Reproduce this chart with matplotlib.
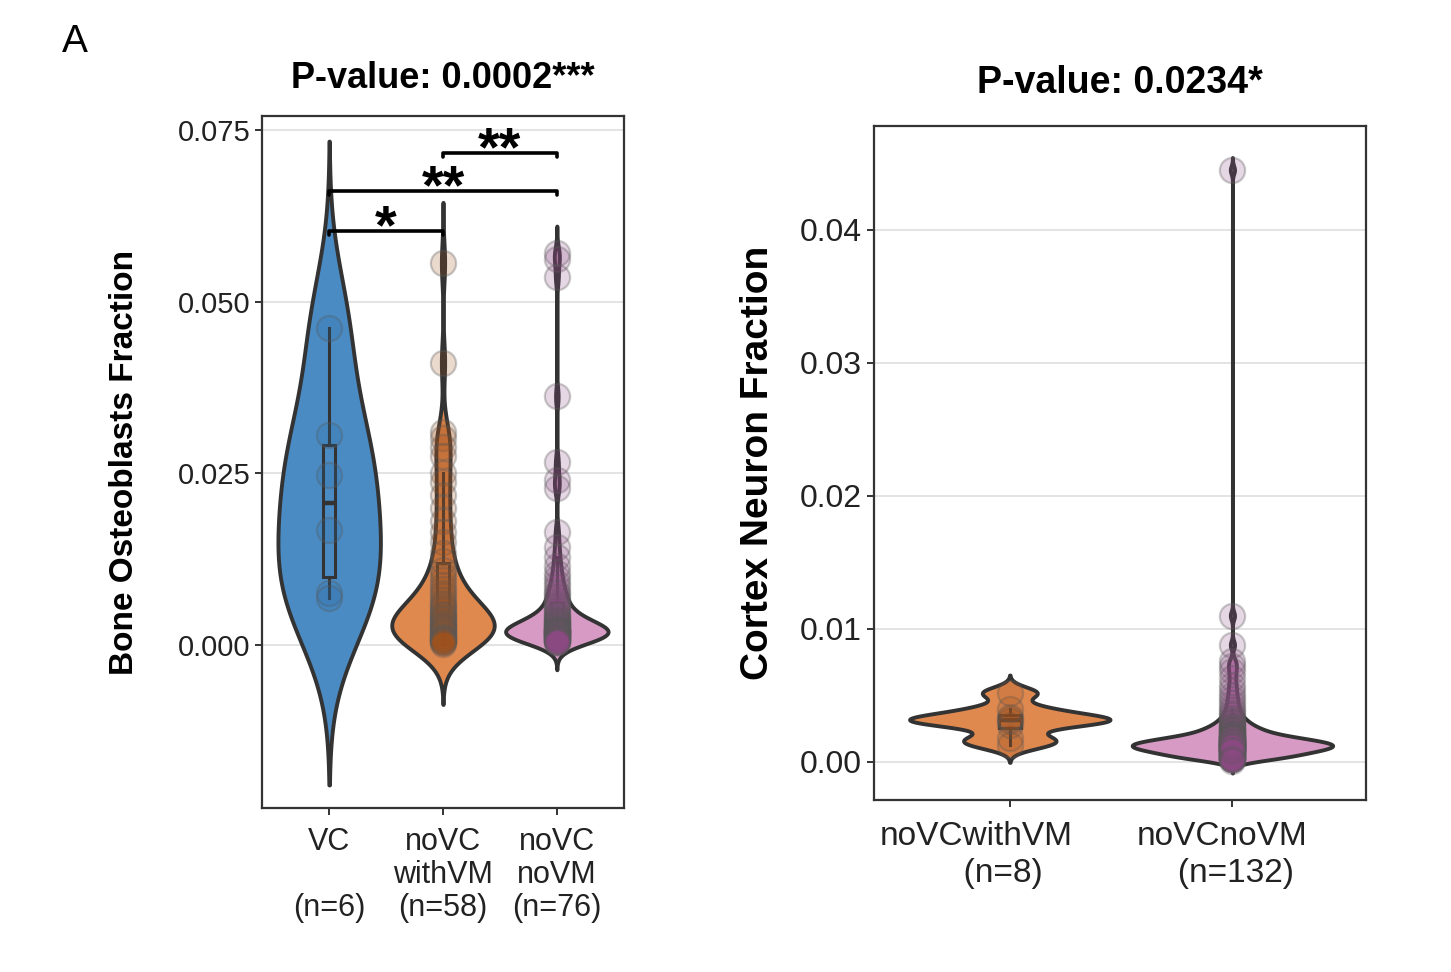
import numpy as np
import matplotlib
matplotlib.use("Agg")
import matplotlib.pyplot as plt
from matplotlib import transforms

plt.rcParams['font.family'] = ['Liberation Sans', 'DejaVu Sans']

# ---- data ----
left_labels = ['VC\n\n(n=6)', 'noVC\nwithVM\n(n=58)', 'noVC\nnoVM\n(n=76)']
right_labels = ['noVCwithVM\n      (n=8)', 'noVCnoVM\n   (n=132)']

bone_vc = [0.0462, 0.0306, 0.0248, 0.0167, 0.0076, 0.0068]

bone_with_vm = [0.0556, 0.0411, 0.0310, 0.0302, 0.0288, 0.0275, 0.0250, 0.0237, 0.0218, 0.0200,
                0.0180, 0.0165, 0.0150, 0.0134, 0.0122, 0.0110, 0.0102, 0.0095, 0.0088, 0.0082,
                0.0076, 0.0071, 0.0066, 0.0062, 0.0058, 0.0055, 0.0052, 0.0049, 0.0046, 0.0044,
                0.0042, 0.0040, 0.0038, 0.0036, 0.0034, 0.0032, 0.0030, 0.0029, 0.0027, 0.0026,
                0.0024, 0.0023, 0.0021, 0.0020, 0.0018, 0.0017, 0.0015, 0.0014, 0.0012, 0.0011,
                0.0010, 0.0009, 0.0008, 0.0007, 0.0006, 0.0005, 0.0004, 0.0002]

bone_no_vm = [0.0570, 0.0562, 0.0535, 0.0362, 0.0266, 0.0240, 0.0229, 0.0165, 0.0143, 0.0128,
              0.0115, 0.0105, 0.0098, 0.0090, 0.0084, 0.0078, 0.0074, 0.0070, 0.0066, 0.0062,
              0.0058, 0.0055, 0.0052, 0.0049, 0.0046, 0.0044, 0.0042, 0.0040, 0.0038, 0.0036,
              0.0035, 0.0034, 0.0033, 0.0032, 0.0031, 0.0030, 0.0029, 0.0028, 0.0027, 0.0026,
              0.0025, 0.0024, 0.0024, 0.0023, 0.0022, 0.0022, 0.0021, 0.0021, 0.0020, 0.0020,
              0.0019, 0.0019, 0.0018, 0.0018, 0.0017, 0.0017, 0.0016, 0.0016, 0.0015, 0.0015,
              0.0014, 0.0013, 0.0013, 0.0012, 0.0011, 0.0011, 0.0010, 0.0010, 0.0009, 0.0008,
              0.0008, 0.0007, 0.0006, 0.0005, 0.0005, 0.0004]

cortex_with_vm = [0.0013, 0.0018, 0.0028, 0.0031, 0.0032, 0.0034, 0.0040, 0.0052]

cortex_no_vm = [0.0445, 0.0110, 0.0088, 0.0076, 0.0072, 0.0068, 0.0063, 0.0058, 0.0054, 0.0050,
                0.0047, 0.0044, 0.0041, 0.0039, 0.0037, 0.0035, 0.0033, 0.0032, 0.0031, 0.0030,
                0.0029, 0.0028, 0.0027, 0.0026, 0.0026, 0.0025, 0.0025, 0.0024, 0.0024, 0.0023,
                0.0023, 0.0022, 0.0022, 0.0021, 0.0021, 0.0020, 0.0020, 0.0020, 0.0019, 0.0019,
                0.0019, 0.0018, 0.0018, 0.0018, 0.0017, 0.0017, 0.0017, 0.0016, 0.0016, 0.0016,
                0.0016, 0.0015, 0.0015, 0.0015, 0.0015, 0.0014, 0.0014, 0.0014, 0.0014, 0.0014,
                0.0013, 0.0013, 0.0013, 0.0013, 0.0013, 0.0012, 0.0012, 0.0012, 0.0012, 0.0012,
                0.0011, 0.0011, 0.0011, 0.0011, 0.0011, 0.0010, 0.0010, 0.0010, 0.0010, 0.0010,
                0.0009, 0.0009, 0.0009, 0.0009, 0.0009, 0.0008, 0.0008, 0.0008, 0.0008, 0.0007,
                0.0007, 0.0007, 0.0007, 0.0006, 0.0006, 0.0006, 0.0006, 0.0005, 0.0005, 0.0005,
                0.0005, 0.0004, 0.0004, 0.0004, 0.0004, 0.0003, 0.0003, 0.0003, 0.0003, 0.0002,
                0.0002, 0.0002, 0.0019, 0.0018, 0.0017, 0.0016, 0.0015, 0.0014, 0.0013, 0.0012,
                0.0011, 0.0010, 0.0017, 0.0015, 0.0014, 0.0013, 0.0012, 0.0011, 0.0009, 0.0008,
                0.0002, 0.0001]

comparisons = [(1, 2), (1, 3), (2, 3)]
comp_stars = ['*', '**', '**']

# ---- style ----
BLUE, ORANGE, PINK = '#4B8BC3', '#E0894F', '#D69AC4'
PT_BLUE, PT_ORANGE, PT_PINK = '#2E6DA4', '#A0521E', '#8E4A85'
DARK = '#333333'


def nrd0(x):
    x = np.asarray(x)
    sd = x.std(ddof=1)
    q75, q25 = np.percentile(x, [75, 25])
    lo = min(sd, (q75 - q25) / 1.34)
    if lo == 0:
        lo = sd
    return 0.9 * lo * len(x) ** -0.2


def violin(ax, pos, vals, fill):
    vals = np.asarray(vals)
    bw = nrd0(vals)
    grid = np.linspace(vals.min() - 3 * bw, vals.max() + 3 * bw, 800)
    dens = np.exp(-0.5 * ((grid[:, None] - vals[None, :]) / bw) ** 2).sum(axis=1)
    half = dens / dens.max() * 0.45
    ax.fill_betweenx(grid, pos - half, pos + half, facecolor=fill,
                     edgecolor=DARK, linewidth=2.8, zorder=2)


def panel(ax, groups, fills, ptcols, fs):
    pos = np.arange(1, len(groups) + 1)
    for p, g, f in zip(pos, groups, fills):
        violin(ax, p, g, f)
    bp = ax.boxplot(groups, positions=pos, widths=0.1, patch_artist=True,
                    showfliers=False, showcaps=False, manage_ticks=False,
                    boxprops=dict(edgecolor=DARK, linewidth=2.2),
                    medianprops=dict(color=DARK, linewidth=3.2),
                    whiskerprops=dict(color=DARK, linewidth=2.2), zorder=3)
    for b, f in zip(bp['boxes'], fills):
        b.set_facecolor(f)
    for p, g, c in zip(pos, groups, ptcols):
        rgb = matplotlib.colors.to_rgb(c)
        ax.scatter(np.full(len(g), p), g, s=330, facecolors=[rgb + (0.22,)],
                   edgecolors=[(0.35, 0.35, 0.35, 0.32)], linewidths=1.6, zorder=4)
    ax.set_xticks(pos)
    ax.grid(axis='y', color='#E3E3E3', linewidth=1.4)
    ax.set_axisbelow(True)
    for s in ax.spines.values():
        s.set_color(DARK)
        s.set_linewidth(1.6)
    ax.tick_params(axis='both', length=5, width=1.4, color=DARK,
                   labelsize=fs, labelcolor='#222222')


fig = plt.figure(figsize=(14.51, 9.72), dpi=100)

# left panel
ax1 = fig.add_axes([262 / 1451, 1 - 808 / 972, 362 / 1451, 692 / 972])
panel(ax1, [bone_vc, bone_with_vm, bone_no_vm], [BLUE, ORANGE, PINK],
      [PT_BLUE, PT_ORANGE, PT_PINK], 21)
ax1.set_xlim(0.41, 3.59)
ax1.set_ylim(-0.0237, 0.0770)
ax1.set_yticks([0.0, 0.025, 0.05, 0.075])
ax1.set_yticklabels(['%.3f' % v for v in [0.0, 0.025, 0.05, 0.075]])
ax1.set_xticklabels(left_labels, linespacing=1.12, fontsize=22)
ax1.tick_params(axis='x', pad=9)
ax1.set_ylabel('Bone Osteoblasts Fraction', fontsize=24, fontweight='bold')
ax1.yaxis.set_label_coords(-0.337, 0.5)
ax1.set_title('P-value: 0.0002***', fontsize=26, fontweight='bold', pad=20)

bracket_y = [0.0603, 0.0661, 0.0716]
for (a, b), lab, yb in zip(comparisons, comp_stars, bracket_y):
    ax1.plot([a, a, b, b], [yb - 0.0006, yb, yb, yb - 0.0006], color='black',
             linewidth=2.6, zorder=5, solid_capstyle='round')
    ax1.annotate(lab, xy=((a + b) / 2, yb), xytext=(0, -9), textcoords='offset points',
                 ha='center', va='baseline', fontsize=40, fontweight='bold', zorder=5)

# right panel
ax2 = fig.add_axes([874 / 1451, 1 - 800 / 972, 492 / 1451, 674 / 972])
panel(ax2, [cortex_with_vm, cortex_no_vm], [ORANGE, PINK], [PT_ORANGE, PT_PINK], 23)
ax2.set_xlim(0.39, 2.6)
ax2.set_ylim(-0.00286, 0.0478)
ax2.set_yticks([0.0, 0.01, 0.02, 0.03, 0.04])
ax2.set_yticklabels(['%.2f' % v for v in [0.0, 0.01, 0.02, 0.03, 0.04]])
ax2.set_xticklabels(right_labels, linespacing=1.25, fontsize=24)
ax2.tick_params(axis='x', pad=10)
ax2.set_ylabel('Cortex Neuron Fraction', fontsize=28, fontweight='bold')
ax2.yaxis.set_label_coords(-0.2, 0.5)
ax2.set_title('P-value: 0.0234*', fontsize=27, fontweight='bold', pad=24)
shifts = [-34, -10]
for lbl, dx in zip(ax2.get_xticklabels(), shifts):
    lbl.set_transform(lbl.get_transform() +
                      transforms.ScaledTranslation(dx / 100, 0, fig.dpi_scale_trans))

fig.text(62 / 1451, 1 - 52 / 972, 'A', fontsize=28)

fig.savefig('out.png', dpi=100)
